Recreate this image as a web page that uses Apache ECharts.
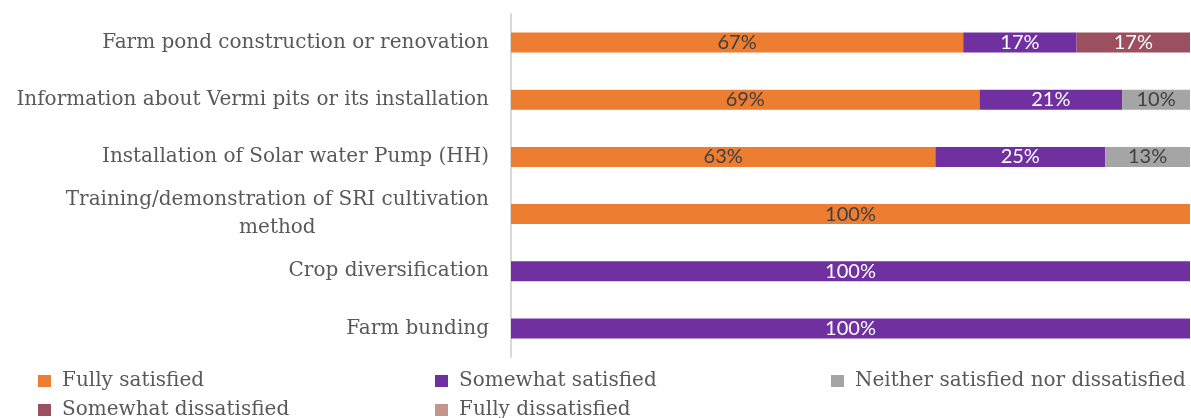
<!DOCTYPE html>
<html><head><meta charset="utf-8">
<script src="https://cdn.jsdelivr.net/npm/echarts@6/dist/echarts.min.js"></script>
<style>html,body{margin:0;padding:0;background:#fff}#c{width:1191px;height:418px}</style>
</head><body><div id="c"></div>
<script>
const categories = [
  'Farm pond construction or renovation',
  'Information about Vermi pits or its installation',
  'Installation of Solar water Pump (HH)',
  'Training/demonstration of SRI cultivation\nmethod',
  'Crop diversification',
  'Farm bunding'
];
const seriesNames = ['Fully satisfied','Somewhat satisfied','Neither satisfied nor dissatisfied','Somewhat dissatisfied','Fully dissatisfied'];
const fullySatisfied    = [66.6, 69, 62.5, 100, 0, 0];
const somewhatSatisfied = [16.7, 21, 25, 0, 100, 100];
const neither           = [0, 10, 12.5, 0, 0, 0];
const somewhatDissat    = [16.7, 0, 0, 0, 0, 0];
const fullyDissat       = [0, 0, 0, 0, 0, 0];

const colors = ['#ED7D31','#7030A0','#A5A5A5','#9B4F5F','#C4958E'];
const labelColors = ['#404040','#ffffff','#404040','#ffffff','#404040'];
const values = [fullySatisfied, somewhatSatisfied, neither, somewhatDissat, fullyDissat];

const chart = echarts.init(document.getElementById('c'));
const legendPos = [[33,366],[430,366],[826,366],[33,395],[430,395]];
const serifFont = 'DejaVu Serif';
const series = seriesNames.map((n,i)=>({
  name:n, type:'bar', stack:'s', barWidth:20,
  itemStyle:{color:colors[i]},
  label:{show:true, position:'inside', color:labelColors[i], fontFamily:'Lato', fontSize:20,
    formatter:p=> p.value ? Math.round(p.value)+'%' : ''},
  data:values[i]
}));
chart.setOption({
  animation:false,
  grid:{left:511, right:1, top:14, bottom:61, containLabel:false, outerBoundsMode:'none'},
  xAxis:{type:'value', min:0, max:100, show:false},
  yAxis:{type:'category', inverse:true, data:categories,
    axisLine:{show:true, lineStyle:{color:'#D9D9D9', width:2}},
    axisTick:{show:false},
    axisLabel:{margin:22, color:'#595959', fontFamily:serifFont, fontSize:20, lineHeight:28,
      formatter:v=> v.indexOf('\n')>=0 ? v.split('\n').map((s,k)=>k? '{c|'+s+'}' : '{r|'+s+'}').join('\n') : v,
      rich:{r:{fontFamily:serifFont, fontSize:20, color:'#595959', lineHeight:28},
            c:{fontFamily:serifFont, fontSize:20, color:'#595959', lineHeight:28, align:'center'}}}
  },
  legend: seriesNames.map((n,i)=>({
    data:[n], left:legendPos[i][0], top:legendPos[i][1], icon:'rect', itemWidth:13, itemHeight:12,
    textStyle:{fontFamily:serifFont, fontSize:20, color:'#595959', padding:[0,0,0,6]}, selectedMode:false
  })),
  series
});
</script></body></html>
